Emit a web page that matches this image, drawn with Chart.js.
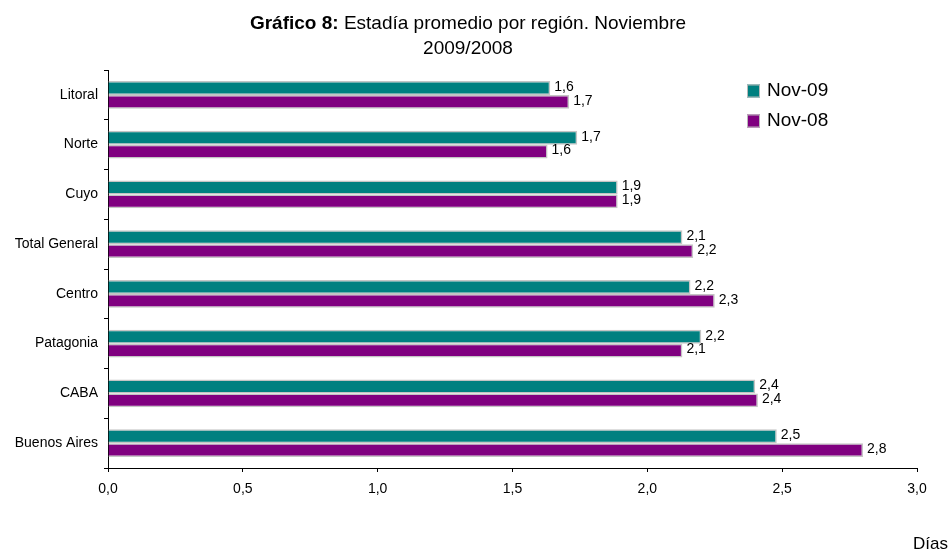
<!DOCTYPE html>
<html>
<head>
<meta charset="utf-8">
<script src="https://cdn.jsdelivr.net/npm/chart.js@4/dist/chart.umd.min.js"></script>
<style>
  html, body { margin: 0; padding: 0; background: #fff; }
  #wrap { width: 949px; height: 554px; }
</style>
</head>
<body>
<div id="wrap"><canvas id="c"></canvas></div>
<script>
var regiones = ['Litoral', 'Norte', 'Cuyo', 'Total General', 'Centro', 'Patagonia', 'CABA', 'Buenos Aires'];
var nov09 = [1.64, 1.74, 1.89, 2.13, 2.16, 2.20, 2.40, 2.48];
var nov08 = [1.71, 1.63, 1.89, 2.17, 2.25, 2.13, 2.41, 2.80];
var serieNombres = ['Nov-09', 'Nov-08'];
var serieColores = ['#008080', '#800080'];

var FONT = 'Arial, "Liberation Sans", sans-serif';

function coma(v, dec) {
    return v.toFixed(dec).replace('.', ',');
}

// title, value labels, legend and axis caption
var extras = {
    id: 'extras',
    afterDraw: function(chart) {
        var ctx = chart.ctx;
        ctx.save();

        // title, first part bold
        ctx.fillStyle = '#000';
        ctx.textBaseline = 'alphabetic';
        var bold = 'Gráfico 8:', rest = ' Estadía promedio por región. Noviembre';
        ctx.font = 'bold 19px ' + FONT;
        var wb = ctx.measureText(bold).width;
        ctx.font = '19px ' + FONT;
        var wr = ctx.measureText(rest).width;
        var x0 = 468 - (wb + wr) / 2;
        ctx.textAlign = 'left';
        ctx.font = 'bold 19px ' + FONT;
        ctx.fillText(bold, x0, 29);
        ctx.font = '19px ' + FONT;
        ctx.fillText(rest, x0 + wb, 29);
        ctx.textAlign = 'center';
        ctx.fillText('2009/2008', 468, 54);

        // value labels
        ctx.font = '14px ' + FONT;
        ctx.textAlign = 'left';
        ctx.textBaseline = 'middle';
        chart.data.datasets.forEach(function(ds, i) {
            chart.getDatasetMeta(i).data.forEach(function(bar, j) {
                ctx.fillText(coma(ds.data[j], 1), bar.x + 4, bar.y - 1);
            });
        });

        // legend
        ctx.font = '19px ' + FONT;
        serieNombres.forEach(function(n, i) {
            var y = 91 + i * 30;
            ctx.fillStyle = serieColores[i];
            ctx.fillRect(747, y - 6.5, 13, 13);
            ctx.strokeStyle = '#b8b8b8';
            ctx.lineWidth = 1;
            ctx.strokeRect(747.5, y - 6, 12, 12);
            ctx.fillStyle = '#000';
            ctx.fillText(n, 767, y);
        });

        // axis caption
        ctx.font = '17px ' + FONT;
        ctx.textAlign = 'right';
        ctx.textBaseline = 'alphabetic';
        ctx.fillText('Días', 948, 549);
        ctx.restore();
    }
};

new Chart(document.getElementById('c'), {
    type: 'bar',
    data: {
        labels: regiones,
        datasets: [
            { label: serieNombres[0], data: nov09, backgroundColor: serieColores[0] },
            { label: serieNombres[1], data: nov08, backgroundColor: serieColores[1] }
        ]
    },
    options: {
        indexAxis: 'y',
        responsive: true,
        maintainAspectRatio: false,
        animation: false,
        layout: { padding: { top: 70, right: 32, left: 0, bottom: 0 } },
        datasets: {
            bar: {
                categoryPercentage: 0.56,
                barPercentage: 1,
                borderColor: '#c4c4c4',
                borderWidth: 1.5,
                borderSkipped: 'start'
            }
        },
        plugins: {
            legend: { display: false },
            tooltip: { enabled: false }
        },
        scales: {
            x: {
                min: 0,
                max: 3,
                ticks: {
                    stepSize: 0.5,
                    color: '#000',
                    font: { family: FONT, size: 14 },
                    padding: 9,
                    callback: function(v) { return coma(v, 1); }
                },
                grid: {
                    drawOnChartArea: false,
                    color: '#000',
                    tickLength: 4,
                    tickColor: '#000'
                },
                border: { color: '#000', width: 1 },
                afterFit: function(s) { s.height = 86; }
            },
            y: {
                ticks: {
                    color: '#000',
                    font: { family: FONT, size: 14 },
                    padding: 6
                },
                grid: {
                    drawOnChartArea: false,
                    offset: true,
                    tickLength: 4,
                    tickColor: '#000'
                },
                border: { color: '#000', width: 1 },
                afterFit: function(s) { s.width = 108; }
            }
        }
    },
    plugins: [extras]
});
</script>
</body>
</html>
